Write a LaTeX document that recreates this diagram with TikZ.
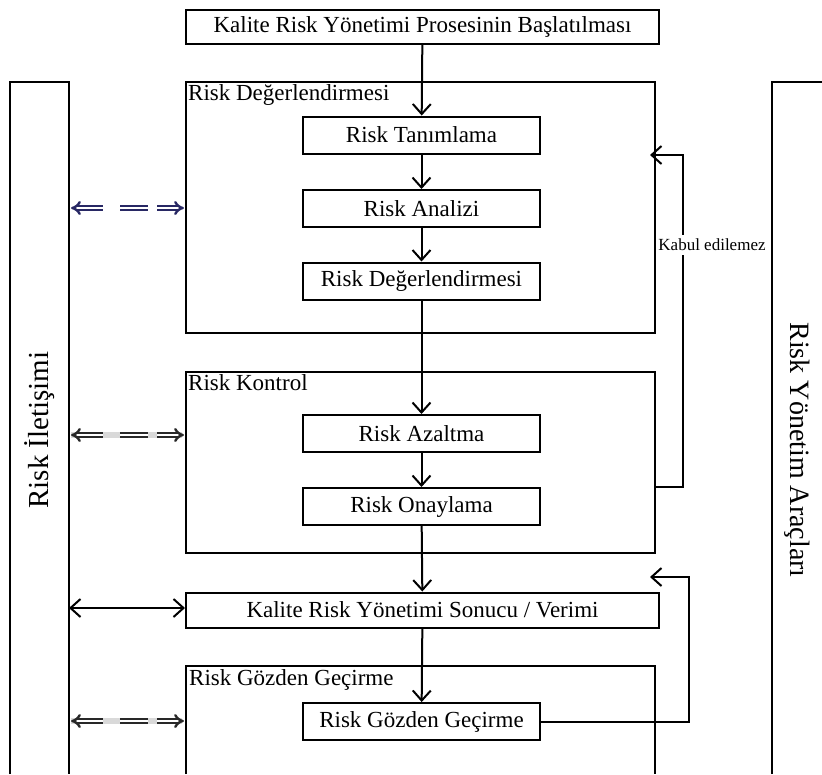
\documentclass[tikz,border=0pt]{standalone}
\usepackage{fontspec}
\setmainfont{Liberation Serif}
\usetikzlibrary{arrows.meta}

\definecolor{lacivert}{RGB}{40,40,100}
\definecolor{koyu}{RGB}{40,40,40}

\tikzset{
  kutu/.style={draw, line width=2pt, minimum width=237pt, minimum height=37pt,
    inner sep=0pt, font=\fontsize{23}{25}\selectfont},
  genis/.style={kutu, minimum width=473pt, minimum height=35pt},
  grup/.style={draw, line width=2pt, inner sep=0pt},
  baslik/.style={anchor=north west, inner sep=3pt, font=\fontsize{23}{25}\selectfont},
  ok/.style={line width=2pt, -{Straight Barb[length=10pt,width=18pt,line width=2pt]}},
  ciftok/.style={line width=2pt, {Straight Barb[length=10pt,width=18pt,line width=2pt]}-{Straight Barb[length=10pt,width=18pt,line width=2pt]}},
  cift/.style={double, double distance=2pt, line width=2.4pt},
  golge/.style={line width=6pt, color=black!15},
}

\begin{document}
\begin{tikzpicture}[x=1pt, y=-1pt]
\useasboundingbox (0,0) rectangle (822,774);

% yan kutular
\draw[line width=2pt] (10,774) -- (10,82) -- (69,82) -- (69,774);
\draw[line width=2pt] (772,774) -- (772,82) -- (830,82);
\node[rotate=90, font=\fontsize{29}{31}\selectfont] (iletisim) at (39.5,430) {Risk İletişimi};
\node[rotate=-90, font=\fontsize{28}{30}\selectfont] (araclar) at (797,450) {Risk Yönetim Araçları};

% gruplar
\node[grup, minimum width=469pt, minimum height=251pt] (degerlendirme) at (420.5,207.5) {};
\node[grup, minimum width=469pt, minimum height=181pt] (kontrol) at (420.5,462.5) {};
\draw[line width=2pt] (186,774) -- (186,666) -- (655,666) -- (655,774);
\coordinate (gozdenkose) at (186,666);
\node[baslik] (degbaslik) at (degerlendirme.north west) {Risk Değerlendirmesi};
\node[baslik] (konbaslik) at (kontrol.north west) {Risk Kontrol};
\node[baslik] (gozbaslik) at (gozdenkose) {Risk Gözden Geçirme};

% kutular
\node[genis, minimum height=34pt] (baslat) at (422.5,27) {Kalite Risk Yönetimi Prosesinin Başlatılması};
\node[kutu] (tanimlama) at (421.5,135) {Risk Tanımlama};
\node[kutu] (analiz) at (421.5,208.5) {Risk Analizi};
\node[kutu] (degkutu) at (421.5,281) {Risk Değerlendirmesi};
\node[kutu] (azaltma) at (421.5,433.5) {Risk Azaltma};
\node[kutu] (onay) at (421.5,506.5) {Risk Onaylama};
\node[genis] (sonuc) at (422.5,610) {Kalite Risk Yönetimi Sonucu / Verimi};
\node[kutu] (gozden) at (421.5,721.5) {Risk Gözden Geçirme};

% akış
\foreach \a/\b in {baslat/tanimlama, tanimlama/analiz, analiz/degkutu,
  degkutu/azaltma, azaltma/onay, onay/sonuc, sonuc/gozden}
  \draw[ok] (\a) -- (\b);

% geri dönüşler
\coordinate (ret1) at (655,487);
\coordinate (dikey) at (683,155);
\coordinate (ust1) at (650,155);
\node[font=\fontsize{17}{19}\selectfont, inner sep=4pt] (kabul) at (712,245) {Kabul edilemez};
\draw[line width=2pt] (ret1) -| (kabul.south -| dikey);
\draw[ok] (kabul.north -| dikey) -- (dikey) -- (ust1);
\coordinate (ust2) at (650,577);
\draw[ok] (gozden.east) -| (689,577) -- (ust2);

% iletişim okları
\foreach \y/\renk/\g in {208/lacivert/0, 435/koyu/1, 721/koyu/1} {
  \coordinate (sol) at (69,\y);
  \coordinate (sag) at (186,\y);
  \ifnum\g=1 \draw[golge] ([xshift=2pt]sol) -- ([xshift=-4pt]sag); \fi
  \draw[cift, color=\renk, {Implies[length=8pt,width=11pt]}-] ([xshift=2pt]sol) -- ([xshift=34pt]sol);
  \draw[cift, color=\renk] ([xshift=51pt]sol) -- ([xshift=79pt]sol);
  \draw[cift, color=\renk, -{Implies[length=8pt,width=11pt]}] ([xshift=-29pt]sag) -- ([xshift=-2pt]sag);
}
\draw[ciftok] (69,608) -- (sonuc.west |- 0,608);
\end{tikzpicture}
\end{document}
